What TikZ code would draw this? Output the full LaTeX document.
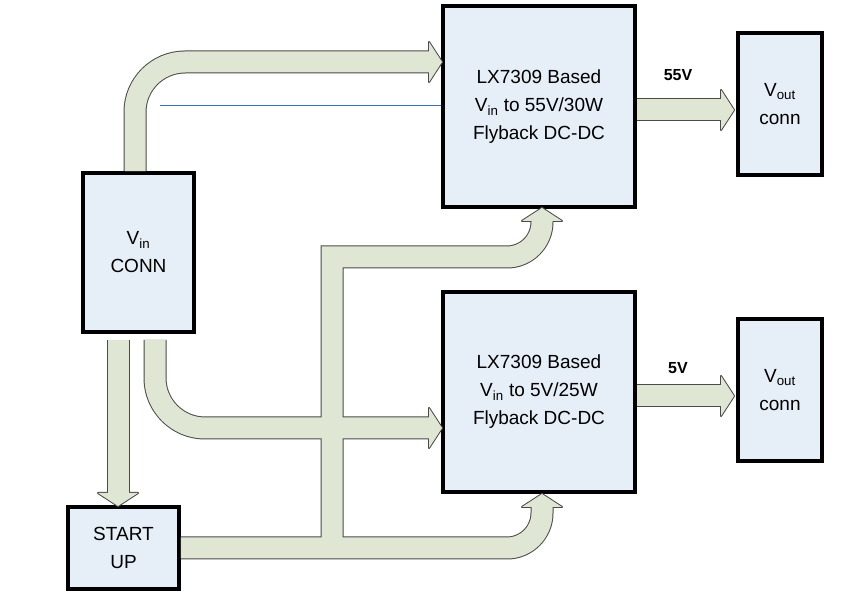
\documentclass[tikz,border=0pt]{standalone}
\usepackage{fontspec}
\setmainfont{Liberation Sans}
\usetikzlibrary{positioning}
\definecolor{boxfill}{HTML}{E6EEF8}
\definecolor{bandfill}{HTML}{DFE6D3}
\definecolor{bandline}{HTML}{4A4A4A}
\definecolor{wireblue}{HTML}{3B6FB6}
\tikzstyle{block}=[draw=black,line width=3.5pt,fill=boxfill,align=center,
                   font=\fontsize{19}{28}\selectfont,inner sep=0pt]
\tikzstyle{band out}=[draw=bandline,line width=23pt]
\tikzstyle{band in}=[draw=bandfill,line width=21pt]
\tikzstyle{head out}=[draw=bandline,fill=bandline,line width=2pt,line join=round]
\tikzstyle{head in}=[fill=bandfill]
\tikzstyle{volt}=[font=\bfseries\fontsize{16}{18}\selectfont]
% wide arrow head, base at #1, pointing at angle #2
\newcommand{\fathead}[3]{\path[#3,shift={#1},rotate=#2] (-1,-20) -- (12,0) -- (-1,20) -- cycle;}

\begin{document}
\begin{tikzpicture}[x=1pt,y=-1pt]
\useasboundingbox (0,0) rectangle (855,601);

\node[block,minimum width=192,minimum height=201] (fly1) at (539,106.5)
  {LX7309 Based\\V\textsubscript{in} to 55V/30W\\Flyback DC-DC};
\node[block,minimum width=192,minimum height=200] (fly2) at (539,392)
  {LX7309 Based\\V\textsubscript{in} to 5V/25W\\Flyback DC-DC};
\node[block,minimum width=111,minimum height=159] (vin) at (138.5,252.5)
  {V\textsubscript{in}\\CONN};
\node[block,minimum width=111,minimum height=82] (start) at (123.5,548)
  {START\\UP};
\node[block,minimum width=84,minimum height=142] (vo1) at (780,104)
  {V\textsubscript{out}\\conn};
\node[block,minimum width=84,minimum height=142] (vo2) at (780,390)
  {V\textsubscript{out}\\conn};

\node[volt] (l55) at (678,75) {55V};
\node[volt] (l5) at (678,368) {5V};

\coordinate (h1) at (430,62);
\coordinate (h2) at (722,110);
\coordinate (h3) at (430,428);
\coordinate (h4) at (118,494);
\coordinate (h5) at (542,506);
\coordinate (h6) at (542,220);
\coordinate (h7) at (722,396);

% bands drawn twice: outline, then fill
\foreach \st/\hd in {band out/head out,band in/head in}{
  \path[\st] (vin.north -| 135,0) -- (135,112) arc[start angle=180,end angle=270,radius=50] -- (h1);
  \path[\st] (fly1.east |- h2) -- (h2);
  \path[\st] (155,340) -- (155,378) arc[start angle=180,end angle=90,radius=50] -- (h3);
  \path[\st] (fly2.east |- h7) -- (h7);
  \path[\st] (118,340) -- (h4);
  \path[\st] (start.east |- 0,548) -- (507,548) arc[start angle=90,end angle=0,radius=35] -- (h5);
  \path[\st] (332,548) -- (332,257) -- (507,257) arc[start angle=90,end angle=0,radius=35] -- (h6);
  \fathead{(h1)}{0}{\hd}
  \fathead{(h2)}{0}{\hd}
  \fathead{(h3)}{0}{\hd}
  \fathead{(h7)}{0}{\hd}
  \fathead{(h4)}{-90}{\hd}
  \fathead{(h5)}{90}{\hd}
  \fathead{(h6)}{90}{\hd}
}

\coordinate (wire) at (160,105);
\draw[wireblue,line width=0.6pt] (wire) -- (fly1.west |- wire);
\end{tikzpicture}
\end{document}
